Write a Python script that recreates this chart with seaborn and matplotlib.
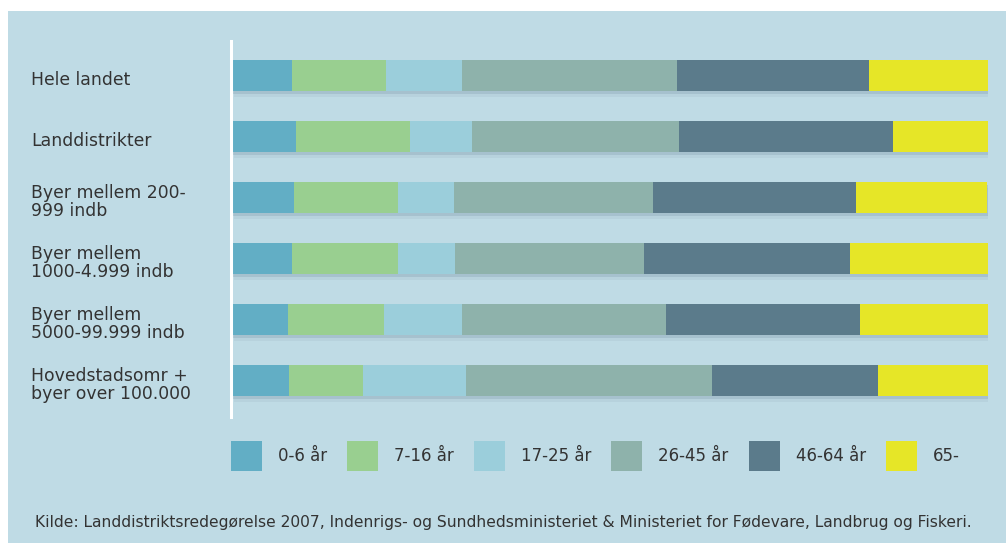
import numpy as np
import pandas as pd
import seaborn as sns
import matplotlib.pyplot as plt
from matplotlib.patches import Patch, Rectangle
from matplotlib import patheffects as pe
from matplotlib import transforms

# Data (andel af befolkningen i procent)
kategorier = ['Hele landet', 'Landdistrikter', 'Byer mellem 200-\n999 indb',
              'Byer mellem\n1000-4.999 indb', 'Byer mellem\n5000-99.999 indb',
              'Hovedstadsomr +\nbyer over 100.000']
aldersgrupper = ['0-6 år', '7-16 år', '17-25 år', '26-45 år', '46-64 år', '65-']
aar_0_6 = [8.1, 8.6, 8.3, 8.1, 7.5, 7.7]
aar_7_16 = [12.4, 15.1, 13.7, 14.0, 12.7, 9.8]
aar_17_25 = [10.0, 8.2, 7.5, 7.5, 10.3, 13.6]
aar_26_45 = [28.4, 27.3, 26.3, 25.0, 27.0, 32.5]
aar_46_64 = [25.4, 28.3, 26.8, 27.2, 25.6, 21.9]
aar_65 = [15.7, 12.5, 17.3, 18.2, 16.9, 14.5]

farver = ['#62aec5', '#99cf90', '#9bcedb', '#8eb2ab', '#5b7b8b', '#e6e627']
baggrund = '#bfdbe5'
tekstfarve = '#333333'

df = pd.DataFrame({'kategori': kategorier, '0-6 år': aar_0_6, '7-16 år': aar_7_16,
                   '17-25 år': aar_17_25, '26-45 år': aar_26_45,
                   '46-64 år': aar_46_64, '65-': aar_65})
kum = df[aldersgrupper].cumsum(axis=1)

W, H = 1006, 543
fig = plt.figure(figsize=(W / 100, H / 100), dpi=100, facecolor='white')
fig.patches.append(Rectangle((8 / W, 0), 1 - 8 / W, 1 - 11 / H,
                             transform=fig.transFigure, facecolor=baggrund,
                             edgecolor='none', zorder=-10))

ax = fig.add_axes([231 / W, 1 - 417 / H, 757 / W, 376 / H])
ax.set_facecolor('none')

# stablede bjælker: tegn kumulative summer bagfra
for i in range(len(aldersgrupper) - 1, -1, -1):
    n0 = len(ax.patches)
    sns.barplot(x=kum[aldersgrupper[i]], y=df['kategori'], orient='h',
                color=farver[i], saturation=1, width=31 / 61, ax=ax,
                edgecolor='none', linewidth=0)
    if i == len(aldersgrupper) - 1:
        # svag skygge under hele bjælken
        for p in ax.patches[n0:]:
            p.set_path_effects([pe.SimplePatchShadow(offset=(1.5, -2.5),
                                                     shadow_rgbFace='#8aa3b3',
                                                     alpha=0.35),
                                pe.SimplePatchShadow(offset=(2.5, -4),
                                                     shadow_rgbFace='#8aa3b3',
                                                     alpha=0.15),
                                pe.Normal()])

ax.set_xlim(0, 100)
ax.set_ylim(5 + 36.5 / 61, -34.5 / 61)
ax.axvline(0, color='white', lw=2.2, clip_on=False, zorder=5)
for s in ax.spines.values():
    s.set_visible(False)
ax.set_xticks([])
ax.set_yticks([])
ax.set_xlabel('')
ax.set_ylabel('')

# kategorietiketter, venstrestillet
trans = transforms.blended_transform_factory(fig.transFigure, ax.transData)
for j, k in enumerate(kategorier):
    ax.text(31 / W, j + 0.07, k, transform=trans, ha='left', va='center',
            fontsize=12.4, color=tekstfarve, linespacing=1.0,
            family='DejaVu Sans')

# forklaring
fs = 12
fs_px = fs * 100 / 72
handles = [Patch(facecolor=c, edgecolor='none', label=l)
           for c, l in zip(farver, aldersgrupper)]
fig.legend(handles=handles, loc='center left', ncol=6, frameon=False,
           bbox_to_anchor=(231 / W, 1 - 456 / H), borderpad=0, borderaxespad=0,
           handlelength=31 / fs_px, handleheight=2.4,
           handletextpad=16 / fs_px, columnspacing=1.2,
           prop={'family': 'DejaVu Sans', 'size': fs}, labelcolor=tekstfarve)

fig.text(35 / W, 1 - 522 / H,
         'Kilde: Landdistriktsredegørelse 2007, Indenrigs- og Sundhedsministeriet '
         '& Ministeriet for Fødevare, Landbrug og Fiskeri.',
         ha='left', va='center', fontsize=11.2, color=tekstfarve,
         family='DejaVu Sans')

fig.savefig('out.png', dpi=100, facecolor='white')
